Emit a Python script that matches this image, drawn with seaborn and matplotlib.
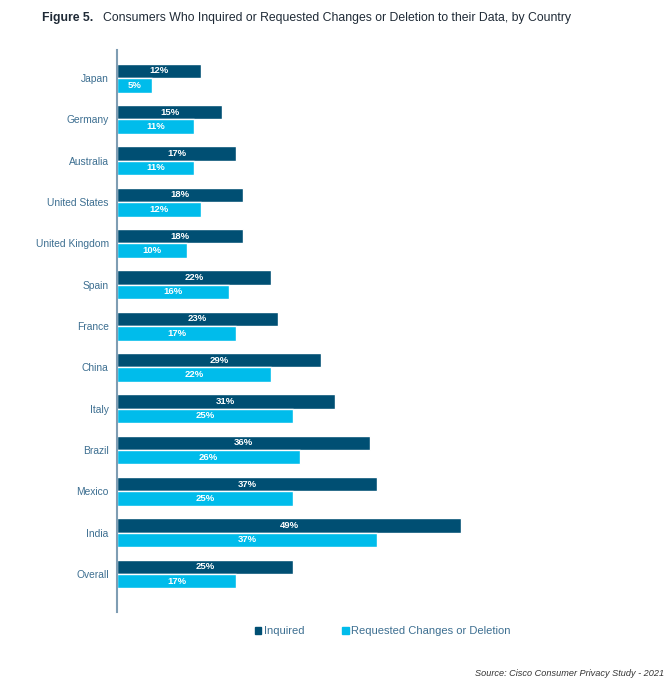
"""Consumers who inquired or requested changes/deletion, by country."""

import matplotlib

matplotlib.use("Agg")
import matplotlib.pyplot as plt
import pandas as pd
import seaborn as sns
from matplotlib.patches import Patch

COUNTRIES = [
    "Japan", "Germany", "Australia", "United States", "United Kingdom", "Spain",
    "France", "China", "Italy", "Brazil", "Mexico", "India", "Overall",
]
INQUIRED = [12, 15, 17, 18, 18, 22, 23, 29, 31, 36, 37, 49, 25]
REQUESTED = [5, 11, 11, 12, 10, 16, 17, 22, 25, 26, 25, 37, 17]
SERIES = ["Inquired", "Requested Changes or Deletion"]

DARK = "#004f73"
LIGHT = "#00bceb"
TEXT = "#3d6f91"


def main() -> None:
    sns.set_style("white")
    plt.rcParams["font.family"] = ["Liberation Sans", "DejaVu Sans"]

    df = pd.DataFrame({
        "country": COUNTRIES * 2,
        "value": INQUIRED + REQUESTED,
        "series": [SERIES[0]] * len(COUNTRIES) + [SERIES[1]] * len(COUNTRIES),
    })

    fig = plt.figure(figsize=(6.7, 6.82), dpi=100)
    ax = fig.add_axes([117 / 670, 1 - 612 / 682, 483 / 670, 562 / 682])

    sns.barplot(
        data=df, y="country", x="value", hue="series", order=COUNTRIES,
        hue_order=SERIES, palette=[DARK, LIGHT], width=0.7, orient="h",
        saturation=1, legend=False, ax=ax,
    )

    for container in ax.containers:
        ax.bar_label(container, labels=[f"{v:.0f}%" for v in container.datavalues],
                     label_type="center", color="white", fontsize=6.8,
                     fontweight="bold")

    ax.set_xlim(0, 68.8)
    ax.set_ylim(12.92, -0.68)
    ax.set_xlabel("")
    ax.set_ylabel("")
    ax.set_xticks([])
    ax.tick_params(axis="y", length=0, pad=6, labelsize=7.4, labelcolor=TEXT)
    for side in ["top", "right", "bottom"]:
        ax.spines[side].set_visible(False)
    ax.spines["left"].set_color("#7f9db3")
    ax.spines["left"].set_linewidth(1.5)

    fig.text(42 / 670, 1 - 18 / 682, "Figure 5.", fontsize=8.8, fontweight="bold",
             color="#1f2a36", va="center", ha="left")
    fig.text(103 / 670, 1 - 18 / 682,
             "Consumers Who Inquired or Requested Changes or Deletion to their Data, by Country",
             fontsize=8.85, color="#1f2a36", va="center", ha="left")

    handles = [Patch(color=DARK), Patch(color=LIGHT)]
    fig.legend(handles, SERIES, loc="center", bbox_to_anchor=(383 / 670, 1 - 631 / 682),
               ncol=2, frameon=False, fontsize=8, labelcolor=TEXT, handlelength=0.55,
               handleheight=0.6, handletextpad=0.25, columnspacing=3.4)

    fig.text(664 / 670, 1 - 674 / 682, "Source: Cisco Consumer Privacy Study - 2021",
             fontsize=6.6, style="italic", color="#333333", ha="right", va="center")

    fig.savefig("out.png", dpi=100)


if __name__ == "__main__":
    main()
